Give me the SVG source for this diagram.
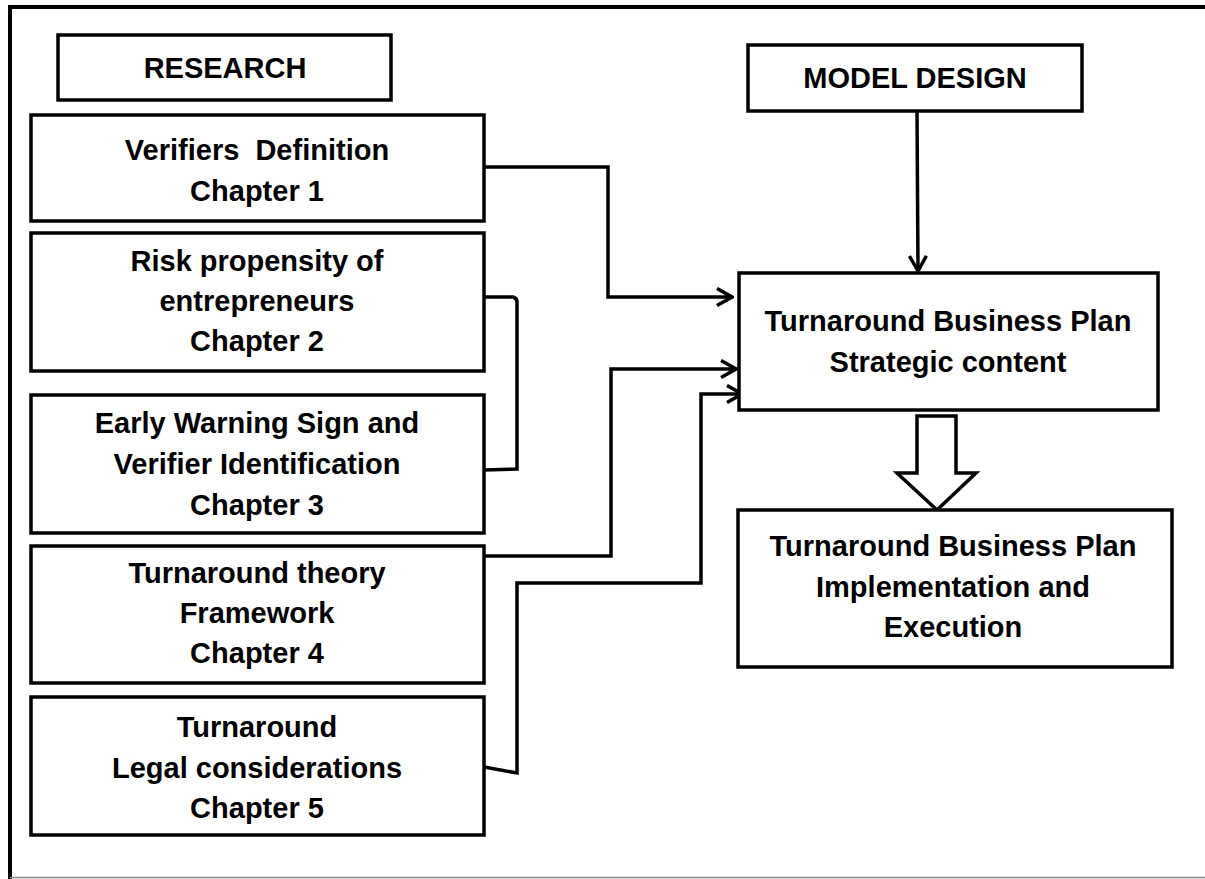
<svg xmlns="http://www.w3.org/2000/svg" width="1205" height="879" viewBox="0 0 1205 879">
<style>
.box{fill:#fff;stroke:#000;stroke-width:3.5}
.t{font-family:"Liberation Sans",Arial,sans-serif;font-weight:bold;font-size:29px;fill:#000;text-anchor:middle}
.c{fill:none;stroke:#000;stroke-width:3.5;stroke-linejoin:miter}
</style>
<defs>
<marker id="ah" markerUnits="userSpaceOnUse" viewBox="0 0 18 20" refX="16" refY="10" markerWidth="18" markerHeight="20" orient="auto">
<path d="M1,1.5 L16,10 L1,18.5" fill="none" stroke="#000" stroke-width="3.5"/>
</marker>
</defs>
<rect width="1205" height="879" fill="#fff"/>
<g id="frame">
<path d="M10,879 L10,7 L1205,7" fill="none" stroke="#000" stroke-width="4"/>
<line x1="10" y1="877.5" x2="1205" y2="877.5" stroke="#888" stroke-width="1.5"/>
</g>
<g id="connectors">
<path class="c" d="M484,167 L608,167 L608,297 L732,297" marker-end="url(#ah)"/>
<path class="c" d="M484,297 L513,297 Q517,298 517,302 L517,469 L484,470"/>
<path class="c" d="M484,556 L611,556 L611,369 L736,369" marker-end="url(#ah)"/>
<path class="c" d="M484,767 L517,773 L517,583 L701,583 L701,394 L742,394" marker-end="url(#ah)"/>
<path class="c" d="M917,111 L918,271" marker-end="url(#ah)"/>
<polygon points="917,416 956,416 956,473 976,473 937,510 897,473 917,473" fill="#fff" stroke="#000" stroke-width="3.5"/>
</g>
<g id="research">
<rect class="box" x="58" y="35" width="333" height="65"/>
<text class="t" x="225" y="78" font-size="27">RESEARCH</text>
</g>
<g id="ch1">
<rect class="box" x="31" y="115" width="453" height="106"/>
<text class="t" x="257" y="160" xml:space="preserve">Verifiers  Definition</text>
<text class="t" x="257" y="201">Chapter 1</text>
</g>
<g id="ch2">
<rect class="box" x="31" y="233" width="453" height="138"/>
<text class="t" x="257" y="271">Risk propensity of</text>
<text class="t" x="257" y="311">entrepreneurs</text>
<text class="t" x="257" y="351">Chapter 2</text>
</g>
<g id="ch3">
<rect class="box" x="31" y="395" width="453" height="138"/>
<text class="t" x="257" y="433">Early Warning Sign and</text>
<text class="t" x="257" y="474">Verifier Identification</text>
<text class="t" x="257" y="515">Chapter 3</text>
</g>
<g id="ch4">
<rect class="box" x="31" y="546" width="453" height="137"/>
<text class="t" x="257" y="583">Turnaround theory</text>
<text class="t" x="257" y="623">Framework</text>
<text class="t" x="257" y="663">Chapter 4</text>
</g>
<g id="ch5">
<rect class="box" x="31" y="697" width="453" height="138"/>
<text class="t" x="257" y="737">Turnaround</text>
<text class="t" x="257" y="778">Legal considerations</text>
<text class="t" x="257" y="818">Chapter 5</text>
</g>
<g id="model">
<rect class="box" x="748" y="45" width="334" height="66"/>
<text class="t" x="915" y="88" font-size="28">MODEL DESIGN</text>
</g>
<g id="strategic">
<rect class="box" x="739" y="273" width="419" height="137"/>
<text class="t" x="948" y="331">Turnaround Business Plan</text>
<text class="t" x="948" y="372">Strategic content</text>
</g>
<g id="implementation">
<rect class="box" x="738" y="510" width="434" height="157"/>
<text class="t" x="953" y="556">Turnaround Business Plan</text>
<text class="t" x="953" y="597">Implementation and</text>
<text class="t" x="953" y="637">Execution</text>
</g>
</svg>
